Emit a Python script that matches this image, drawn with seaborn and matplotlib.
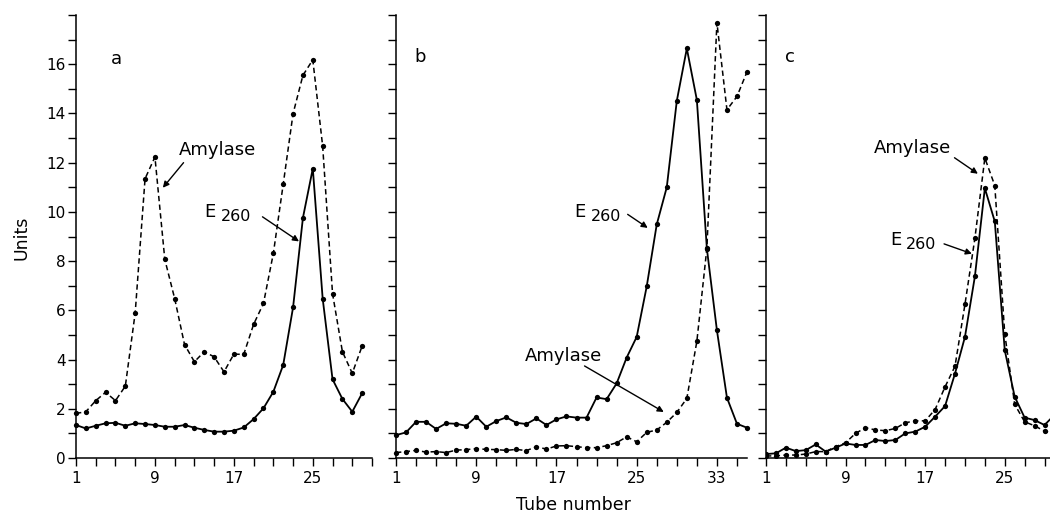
import matplotlib
matplotlib.use("Agg")
import matplotlib.pyplot as plt
import seaborn as sns
from matplotlib.ticker import MultipleLocator, FixedLocator

# ---------------- data ----------------
tubes_a = list(range(1, 31))
e260_a = [1.34, 1.20, 1.31, 1.41, 1.43, 1.31, 1.41, 1.38, 1.34, 1.27, 1.27, 1.34, 1.23, 1.14, 1.07,
          1.07, 1.11, 1.24, 1.58, 2.02, 2.69, 3.78, 6.12, 9.76, 11.76, 6.48, 3.20, 2.40, 1.88, 2.63]
amy_a = [1.81, 1.88, 2.33, 2.67, 2.33, 2.92, 5.90, 11.35, 12.23, 8.07, 6.48, 4.61, 3.91, 4.32, 4.11,
         3.50, 4.22, 4.21, 5.43, 6.28, 8.31, 11.12, 13.99, 15.55, 16.18, 12.67, 6.68, 4.32, 3.44, 4.55]

tubes_b = list(range(1, 37))
e260_b = [0.93, 1.04, 1.47, 1.47, 1.18, 1.41, 1.39, 1.31, 1.68, 1.27, 1.50, 1.65, 1.43, 1.38, 1.61,
          1.34, 1.57, 1.69, 1.64, 1.64, 2.46, 2.39, 3.03, 4.08, 4.92, 6.97, 9.49, 11.00, 14.51, 16.64,
          14.55, 8.50, 5.19, 2.45, 1.39, 1.23]
amy_b = [0.22, 0.26, 0.31, 0.24, 0.26, 0.22, 0.32, 0.34, 0.38, 0.35, 0.34, 0.31, 0.35, 0.30, 0.46,
         0.36, 0.49, 0.50, 0.46, 0.42, 0.42, 0.50, 0.62, 0.86, 0.66, 1.04, 1.14, 1.45, 1.85, 2.42,
         4.74, 8.53, 17.69, 14.15, 14.69, 15.69]

tubes_c = list(range(1, 31))
e260_c = [0.16, 0.19, 0.42, 0.28, 0.32, 0.55, 0.26, 0.42, 0.59, 0.53, 0.53, 0.73, 0.69, 0.73, 1.00,
          1.07, 1.27, 1.68, 2.11, 3.43, 4.92, 7.38, 10.96, 9.61, 4.38, 2.49, 1.64, 1.54, 1.34, 1.75]
amy_c = [0.08, 0.09, 0.12, 0.12, 0.16, 0.26, 0.26, 0.46, 0.62, 1.00, 1.23, 1.14, 1.11, 1.20, 1.43,
         1.51, 1.51, 1.97, 2.89, 3.73, 6.24, 8.93, 12.19, 11.07, 5.05, 2.18, 1.47, 1.31, 1.09, 0.98]

x_tick_labels = ["1", "9", "17", "25", "33"]
y_tick_labels = ["0", "2", "4", "6", "8", "10", "12", "14", "16"]
panel_names = ["a", "b", "c"]

# ---------------- style ----------------
sns.set_style("ticks")
plt.rcParams["font.family"] = ["DejaVu Sans"]
plt.rcParams["axes.linewidth"] = 1.1
for k in ["text.color", "axes.labelcolor", "xtick.color", "ytick.color", "axes.edgecolor"]:
    plt.rcParams[k] = "black"

fig = plt.figure(figsize=(10.5, 5.16), dpi=100)
W, H = 1050.0, 516.0
bottom = 1 - 458 / H
top = 1 - 15 / H
pos = [(76, 372), (396, 747), (766, 1050)]
xlims = [(1, 31), (1, 36), (1, 29.55)]

axes = []
for (l, r), xl in zip(pos, xlims):
    ax = fig.add_axes([l / W, bottom, (r - l) / W, top - bottom])
    ax.set_xlim(*xl)
    ax.set_ylim(0, 18)
    axes.append(ax)

datasets = [(tubes_a, e260_a, amy_a), (tubes_b, e260_b, amy_b), (tubes_c, e260_c, amy_c)]

for i, (ax, (t, e, a)) in enumerate(zip(axes, datasets)):
    sns.lineplot(x=t, y=a, ax=ax, color="black", linewidth=1.1, marker="o", markersize=3.8,
                 markeredgecolor="black", markeredgewidth=0, linestyle=(0, (3.5, 2.2)),
                 estimator=None, sort=False, clip_on=False if i < 2 else True)
    sns.lineplot(x=t, y=e, ax=ax, color="black", linewidth=1.3, marker="o", markersize=3.8,
                 markeredgecolor="black", markeredgewidth=0,
                 estimator=None, sort=False, clip_on=False if i < 2 else True)
    sns.despine(ax=ax)
    ax.set_xlabel("")
    ax.set_ylabel("")
    ax.yaxis.set_major_locator(MultipleLocator(2))
    ax.yaxis.set_minor_locator(MultipleLocator(1))
    xmax = int(ax.get_xlim()[1])
    majors = [v for v in [1, 9, 17, 25, 33] if v <= xmax]
    ax.xaxis.set_major_locator(FixedLocator(majors))
    ax.xaxis.set_minor_locator(FixedLocator(list(range(1, xmax + 1, 2))))
    ax.tick_params(which="both", direction="out", length=5.5, width=1.0, colors="black")
    ax.tick_params(axis="x", labelsize=11, pad=4)
    ax.tick_params(axis="y", labelsize=11, pad=2)
    ax.set_xticklabels(x_tick_labels[:len(majors)])
    ax.set_yticks([0, 2, 4, 6, 8, 10, 12, 14, 16])
    if i == 0:
        ax.set_yticklabels(y_tick_labels)
    else:
        ax.set_yticklabels([])
    ax.text([5.1, 3.4, 3.4][i], [16.2, 16.3, 16.3][i], panel_names[i], fontsize=13,
            ha="center", va="center", color="black")

arrow_kw = dict(arrowstyle="-|>", color="black", lw=1.0, mutation_scale=9,
                shrinkA=0, shrinkB=0)


def label_amylase(ax, txt_xy, tail, head):
    ax.text(txt_xy[0], txt_xy[1], "Amylase", fontsize=13, ha="center", va="center", color="black")
    ax.annotate("", xy=head, xytext=tail, arrowprops=arrow_kw)


def label_e260(ax, e_xy, tail, head, sub_dx=12):
    ax.text(e_xy[0], e_xy[1], "E", fontsize=13, ha="left", va="baseline", color="black")
    ax.annotate("260", xy=e_xy, xytext=(sub_dx, -3.2), textcoords="offset points",
                fontsize=11.5, ha="left", va="baseline", color="black")
    ax.annotate("", xy=head, xytext=tail, arrowprops=arrow_kw)


label_amylase(axes[0], (15.3, 12.5), (11.9, 12.0), (9.8, 10.98))
label_e260(axes[0], (14.03, 9.8), (19.9, 9.8), (23.6, 8.8))

label_e260(axes[1], (18.8, 9.8), (24.1, 9.9), (26.1, 9.35))
label_amylase(axes[1], (17.7, 4.15), (19.8, 3.74), (27.7, 1.87))

label_amylase(axes[2], (15.7, 12.6), (19.95, 12.2), (22.3, 11.55))
label_e260(axes[2], (13.5, 8.66), (18.9, 8.7), (21.7, 8.3), sub_dx=11)

fig.text(22 / W, 1 - 238 / H, "Units", rotation=90, fontsize=12.5, ha="center", va="center",
         color="black")
fig.text(573 / W, 1 - 505 / H, "Tube number", fontsize=12.5, ha="center", va="center",
         color="black")

fig.savefig("out.png", dpi=100)
